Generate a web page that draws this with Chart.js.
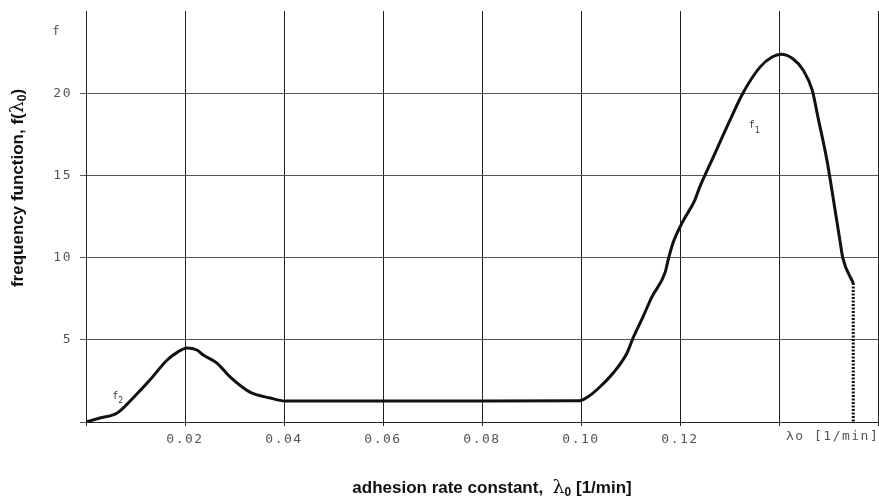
<!DOCTYPE html>
<html>
<head>
<meta charset="utf-8">
<script src="https://cdn.jsdelivr.net/npm/chart.js@4/dist/chart.umd.min.js"></script>
<style>
  html, body { margin: 0; padding: 0; background: #fff; }
  #wrap { width: 879px; height: 497px; }
</style>
</head>
<body>
<div id="wrap"><canvas id="chart"></canvas></div>
<script>
// values (lambda in 1/min, f dimensionless)
const lambda = [0, 0.0028, 0.0063, 0.0095, 0.0129, 0.0164, 0.0185, 0.0204, 0.0224, 0.0237,
  0.0264, 0.0291, 0.0331, 0.0372, 0.0402, 0.06, 0.08, 0.0998, 0.1015, 0.1038,
  0.1065, 0.1093, 0.1105, 0.1125, 0.1143, 0.1170, 0.1176, 0.1186, 0.1204, 0.1230,
  0.1240, 0.1267, 0.1301, 0.1327, 0.1362, 0.1386, 0.1404, 0.1428, 0.1449, 0.1467,
  0.1479, 0.1497, 0.1509, 0.1523, 0.1529, 0.155];
const freq = [0, 0.24, 0.55, 1.46, 2.55, 3.77, 4.25, 4.5, 4.38, 4.07,
  3.6, 2.74, 1.82, 1.46, 1.28, 1.28, 1.28, 1.3, 1.55, 2.13,
  2.98, 4.2, 5.1, 6.38, 7.6, 9.1, 9.85, 10.9, 12.1, 13.5,
  14.3, 16.1, 18.36, 20.0, 21.6, 22.2, 22.37, 22.1, 21.4, 20.2,
  18.5, 15.9, 13.7, 11.06, 9.97, 8.45];

const xTickLabels = ["0.02", "0.04", "0.06", "0.08", "0.10", "0.12"];
const yTickLabels = ["5", "10", "15", "20"];
const curveNames = [["f", "2", 0.0059, 1.46], ["f", "1", 0.1345, 17.9]];

const tickFont = "'DejaVu Sans Mono', 'Liberation Mono', monospace";

const points = lambda.map((x, i) => ({ x: x, y: freq[i] }));
const last = points[points.length - 1];
const cutoff = [{ x: last.x, y: last.y }, { x: last.x, y: 0 }];

// draws a run of text pieces (for subscripts / mixed fonts)
function drawPieces(ctx, pieces, x, y, rotate) {
  ctx.save();
  ctx.translate(x, y);
  if (rotate) ctx.rotate(-Math.PI / 2);
  let w = 0;
  pieces.forEach(p => { ctx.font = p.font; w += ctx.measureText(p.t).width; });
  let cx = -w / 2;
  ctx.textBaseline = "alphabetic";
  ctx.textAlign = "left";
  pieces.forEach(p => {
    ctx.font = p.font;
    ctx.fillText(p.t, cx, p.dy || 0);
    cx += ctx.measureText(p.t).width;
  });
  ctx.restore();
}

const extraText = {
  id: "extraText",
  beforeDraw(chart) {
    chart.ctx.letterSpacing = "1.5px";
  },
  afterDraw(chart) {
    const ctx = chart.ctx;
    const xs = chart.scales.x, ys = chart.scales.y;
    ctx.save();
    ctx.fillStyle = "#555";
    ctx.font = "13px " + tickFont;
    ctx.textBaseline = "middle";
    ctx.textAlign = "left";
    ctx.fillText("f", 52, 32);
    ctx.fillText("\u03bbo [1/min]", xs.getPixelForValue(0.14) + 7, 437);
    // curve names
    ctx.fillStyle = "#333";
    curveNames.forEach(c => {
      const px = xs.getPixelForValue(c[2]), py = ys.getPixelForValue(c[3]);
      ctx.font = "10px " + tickFont;
      ctx.fillText(c[0], px - 3, py - 2);
      ctx.font = "8px " + tickFont;
      ctx.fillText(c[1], px + 3, py + 3);
    });
    ctx.restore();

    ctx.save();
    ctx.letterSpacing = "0px";
    ctx.fillStyle = "#111";
    const bold = "bold 17px 'Liberation Sans', Arial, sans-serif";
    const lam = "19px 'DejaVu Serif', 'Liberation Serif', serif";
    const sub = "bold 12px 'Liberation Sans', Arial, sans-serif";
    drawPieces(ctx, [
      { t: "adhesion rate constant,  ", font: bold },
      { t: "\u03bb", font: lam },
      { t: "0", font: sub, dy: 3 },
      { t: " [1/min]", font: bold }
    ], 492, 493, false);
    drawPieces(ctx, [
      { t: "frequency function, f(", font: bold },
      { t: "\u03bb", font: lam },
      { t: "0", font: sub, dy: 3 },
      { t: ")", font: bold }
    ], 23, 188, true);
    ctx.restore();
  }
};

new Chart(document.getElementById("chart"), {
  type: "line",
  data: {
    datasets: [
      {
        data: points,
        borderColor: "#111",
        borderWidth: 3,
        pointRadius: 0,
        cubicInterpolationMode: "monotone",
        fill: false
      },
      {
        data: cutoff,
        borderColor: "#111",
        borderWidth: 3,
        borderDash: [2, 1.5],
        pointRadius: 0,
        fill: false
      }
    ]
  },
  options: {
    responsive: true,
    maintainAspectRatio: false,
    animation: false,
    layout: { padding: { top: 11, right: 1, left: 0, bottom: 0 } },
    plugins: { legend: { display: false }, tooltip: { enabled: false } },
    scales: {
      x: {
        type: "linear",
        min: 0,
        max: 0.16,
        afterFit(scale) {
          scale.height = 75;
          scale.paddingLeft = 0;
          scale.paddingRight = 0;
        },
        border: { color: "#222", width: 1 },
        grid: { color: "#222", lineWidth: 1, tickLength: 4 },
        ticks: {
          stepSize: 0.02,
          maxRotation: 0,
          padding: 6,
          color: "#555",
          font: { family: tickFont, size: 13 },
          callback(v) {
            const s = (Math.round(v * 100) / 100).toFixed(2);
            return xTickLabels.includes(s) ? s : "";
          }
        }
      },
      y: {
        min: 0,
        max: 25,
        afterFit(scale) {
          scale.width = 86;
          scale.paddingTop = 0;
          scale.paddingBottom = 0;
        },
        border: { color: "#222", width: 1 },
        grid: {
          color: c => (c.tick && c.tick.value === 25 ? "rgba(0,0,0,0)" : "#555"),
          lineWidth: 1,
          tickLength: 6
        },
        ticks: {
          stepSize: 5,
          padding: 8,
          color: "#555",
          font: { family: tickFont, size: 13 },
          callback(v) {
            const s = String(v);
            return yTickLabels.includes(s) ? s : "";
          }
        }
      }
    }
  },
  plugins: [extraText]
});
</script>
</body>
</html>
